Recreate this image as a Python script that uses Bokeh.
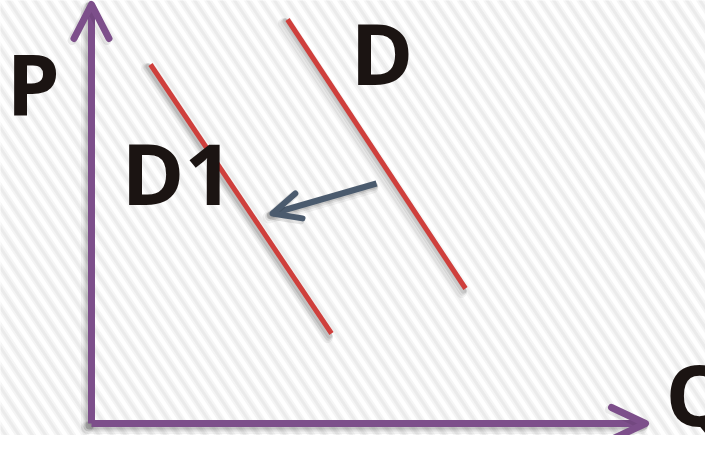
import numpy as np
from bokeh.plotting import figure
from bokeh.models import Range1d
from bokeh.core.properties import value
from bokeh.embed import file_html
from bokeh.resources import INLINE

# ---- data (conceptual P-Q space, origin at the axes' corner) ----
q_axis_max = 554
p_axis_max = 419
D_q = [196, 374]
D_p = [404, 135]
D1_q = [59, 240]
D1_p = [359, 90]
shift_q = [285, 181]
shift_p = [240, 210]
label_text = ["P", "D", "D1", "Q"]
label_q = [-85, 259, 30, 574]
label_p = [342, 372, 252, 31]

PURPLE = "#7d4f8b"
RED = "#cf3f3c"
SLATE = "#4b5b6e"
INK = "#1b1412"

p = figure(width=705, height=435, x_range=Range1d(-91, 614), y_range=Range1d(-12, 423),
           output_backend="svg", toolbar_location=None, min_border=0)
p.axis.visible = False
p.grid.visible = False
p.outline_line_color = None
p.background_fill_color = "white"
p.border_fill_color = "white"

# background diagonal stripes
cs = 598 + 13.3 * np.arange(-60, 70)
cs = cs[(cs > -130) & (cs < 930)]
x0 = cs + 20 / 1.5
x1 = cs - 430 / 1.5
p.segment(x0=x0, y0=[-20] * len(cs), x1=x1, y1=[430] * len(cs), line_color="#f5f5f5", line_width=7)
p.segment(x0=x0, y0=[-20] * len(cs), x1=x1, y1=[430] * len(cs), line_color="#ebebeb", line_width=3)


def shadowed(xs, ys, color, w):
    for dx, extra, a in ((-4, 6, 0.05), (-3, 3, 0.08), (-2, 1, 0.10)):
        p.multi_line(xs=[[x + dx for x in xx] for xx in xs], ys=[[y + dx for y in yy] for yy in ys],
                     line_color="black", line_alpha=a, line_width=w + extra,
                     line_cap="round", line_join="round")
    p.multi_line(xs=xs, ys=ys, line_color=color, line_width=w, line_cap="butt", line_join="round")


def head(tx, ty, ux, uy, back, side):
    # chevron head at tip (tx,ty), direction (ux,uy) unit
    bx, by = tx - ux * back, ty - uy * back
    px, py = -uy, ux
    return [bx + px * side, tx, bx - px * side], [by + py * side, ty, by - py * side]


# axes
shadowed([[0, 0], [0, q_axis_max]], [[p_axis_max, 0], [0, 0]], PURPLE, 7)
hx, hy = head(0, p_axis_max, 0, 1, 34, 17.5)
hx2, hy2 = head(q_axis_max, 0, 1, 0, 34, 16)
for xs_, ys_ in ((hx, hy), (hx2, hy2)):
    p.line([v - 2 for v in xs_], [v - 2 for v in ys_], line_color="black", line_alpha=0.08, line_width=9,
           line_cap="round", line_join="round")
    p.line(xs_, ys_, line_color=PURPLE, line_width=7, line_cap="round", line_join="round")

# demand curves
shadowed([D_q, D1_q], [D_p, D1_p], RED, 5)

# shift arrow
shadowed([shift_q], [shift_p], SLATE, 6)
dx = shift_q[1] - shift_q[0]
dy = shift_p[1] - shift_p[0]
n = (dx * dx + dy * dy) ** 0.5
ax, ay = head(shift_q[1], shift_p[1], dx / n, dy / n, 27.5, 13)
p.line([v - 2 for v in ax], [v - 2 for v in ay], line_color="black", line_alpha=0.1, line_width=8,
       line_cap="round", line_join="round")
p.line(ax, ay, line_color=SLATE, line_width=6, line_cap="round", line_join="round")

# labels
p.text(x=label_q, y=label_p, text=label_text, text_font=value("Open Sans"), text_font_style="bold",
       text_font_size="85px", text_color=INK, text_align="left", text_baseline="alphabetic")

open("out.html", "w").write(file_html(p, INLINE))
